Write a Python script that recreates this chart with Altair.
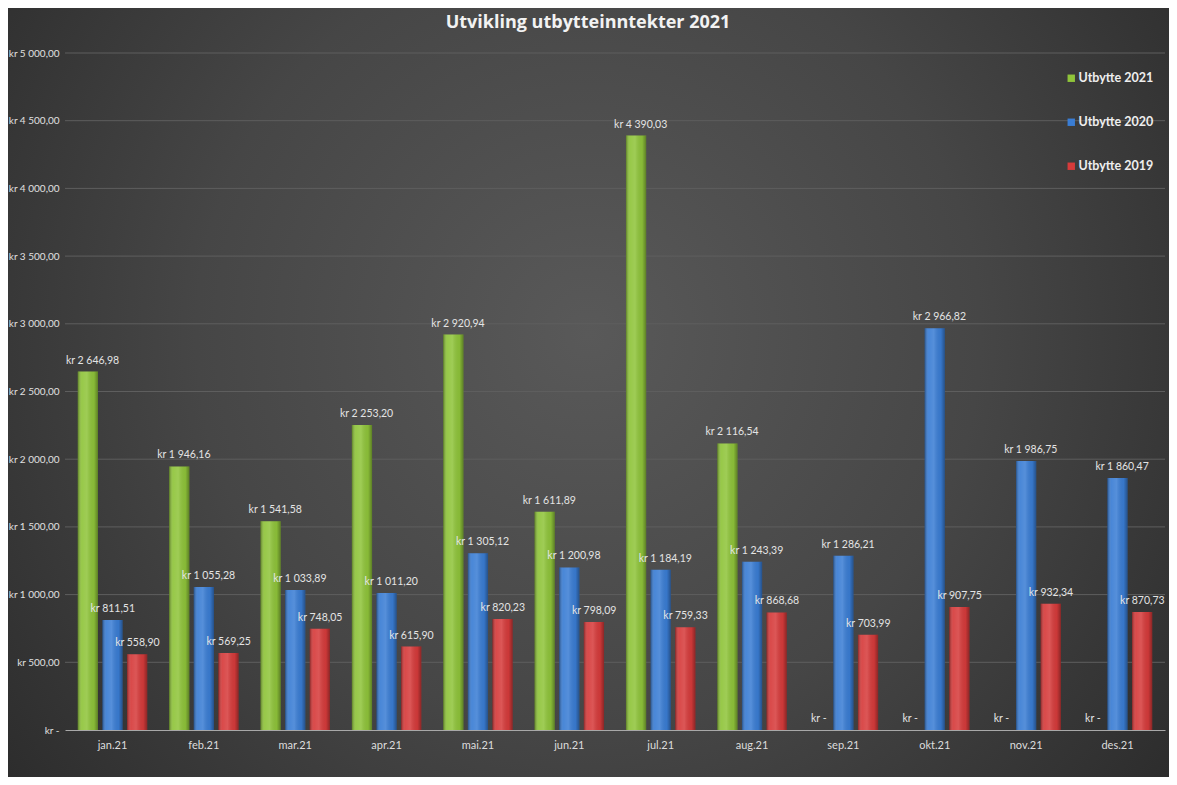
import altair as alt
import pandas as pd

months = ["jan.21", "feb.21", "mar.21", "apr.21", "mai.21", "jun.21",
          "jul.21", "aug.21", "sep.21", "okt.21", "nov.21", "des.21"]
series = ["Utbytte 2021", "Utbytte 2020", "Utbytte 2019"]
u2021 = [2646.98, 1946.16, 1541.58, 2253.20, 2920.94, 1611.89,
         4390.03, 2116.54, 0, 0, 0, 0]
u2020 = [811.51, 1055.28, 1033.89, 1011.20, 1305.12, 1200.98,
         1184.19, 1243.39, 1286.21, 2966.82, 1986.75, 1860.47]
u2019 = [558.90, 569.25, 748.05, 615.90, 820.23, 798.09,
         759.33, 868.68, 703.99, 907.75, 932.34, 870.73]
colors = ["#8fc43a", "#3a7dd4", "#d63b3b"]
y_ticks = [500, 1000, 1500, 2000, 2500, 3000, 3500, 4000, 4500, 5000]


def fmt(v):
    if v == 0:
        return "kr -"
    s = f"{v:,.2f}".replace(",", " ").replace(".", ",")
    return ("kr  " if v < 1000 else "kr ") + s


rows = []
for i, m in enumerate(months):
    for s, vals in zip(series, [u2021, u2020, u2019]):
        rows.append({"month": m, "series": s, "value": vals[i], "label": fmt(vals[i])})
df = pd.DataFrame(rows)
grid_df = pd.DataFrame({"tick": y_ticks})
bg_df = pd.DataFrame({"k": [0]})

W, H = 1100, 677
PL, PT, PR, PB = 57, 45, 4, 47
FONT = "Lato"

x_enc = alt.X(
    "month:N", sort=months,
    scale=alt.Scale(paddingInner=0.24, paddingOuter=0.14),
    axis=alt.Axis(title=None, labelAngle=0, labelColor="#dddddd", labelFont=FONT,
                  labelFontSize=11, labelPadding=9, ticks=False,
                  domainColor="#a8a8a8", domainWidth=1, grid=False, zindex=1),
)
xo_enc = alt.XOffset("series:N", sort=series,
                     scale=alt.Scale(paddingInner=0.18, paddingOuter=0))
y_enc = alt.Y(
    "value:Q", title=None,
    scale=alt.Scale(domain=[0, 5000], nice=False),
    axis=alt.Axis(title=None, values=[0] + y_ticks, domain=False, ticks=False, grid=False,
                  labelColor="#e0e0e0", labelFont=FONT, labelFontSize=10, labelPadding=6,
                  zindex=1,
                  labelExpr="datum.value == 0 ? 'kr -' : (datum.value < 1000 ? 'kr  ' : 'kr ') + "
                            "replace(replace(format(datum.value, ',.2f'), ',', ' '), '.', ',')"),
)

bg = alt.Chart(bg_df).mark_rect(
    fill=alt.RadialGradient(
        gradient="radial", x1=0.5, y1=0.45, r1=0, x2=0.5, y2=0.45, r2=0.75,
        stops=[alt.GradientStop(color="#595959", offset=0),
               alt.GradientStop(color="#464646", offset=0.45),
               alt.GradientStop(color="#2c2c2c", offset=0.85),
               alt.GradientStop(color="#222222", offset=1)]),
).encode(x=alt.value(-PL), x2=alt.value(W + PR),
         y=alt.value(-PT), y2=alt.value(H + PB))

grid = alt.Chart(grid_df).mark_rule(color="#5e5e5e", strokeWidth=1).encode(
    y=alt.Y("tick:Q", title=None, scale=alt.Scale(domain=[0, 5000], nice=False)),
    x=alt.value(0), x2=alt.value(W),
)

bars = alt.Chart(df).mark_bar().encode(
    x=x_enc, xOffset=xo_enc, y=y_enc,
    color=alt.Color("series:N", sort=series,
                    scale=alt.Scale(domain=series, range=colors),
                    legend=alt.Legend(title=None, orient="none", legendX=1000, legendY=19,
                                      symbolType="square", symbolSize=55, symbolStrokeWidth=0,
                                      labelColor="#eeeeee", labelFont=FONT, labelFontSize=12.5,
                                      labelFontWeight="bold", rowPadding=31, labelOffset=1,
                                      padding=0)),
)

shade = alt.Chart(df).mark_bar(
    fill=alt.LinearGradient(
        gradient="linear", x1=0, x2=1, y1=0, y2=0,
        stops=[alt.GradientStop(color="rgba(0,0,0,0.35)", offset=0),
               alt.GradientStop(color="rgba(255,255,255,0.08)", offset=0.2),
               alt.GradientStop(color="rgba(255,255,255,0.14)", offset=0.45),
               alt.GradientStop(color="rgba(0,0,0,0.05)", offset=0.8),
               alt.GradientStop(color="rgba(0,0,0,0.35)", offset=1)]),
).encode(x=alt.X("month:N", sort=months), xOffset=alt.XOffset("series:N", sort=series),
         y=alt.Y("value:Q", title=None))

labels = alt.Chart(df).transform_filter("datum.value > 0").mark_text(
    align="left", baseline="bottom", dx=-22, dy=-6,
    color="#e4e4e4", font=FONT, fontSize=10.5,
).encode(x=alt.X("month:N", sort=months), xOffset=alt.XOffset("series:N", sort=series),
         y=alt.Y("value:Q", title=None), text="label:N")

zero_labels = alt.Chart(df).transform_filter("datum.value == 0").mark_text(
    align="center", baseline="bottom", dy=-6,
    color="#e4e4e4", font=FONT, fontSize=10.5,
).encode(x=alt.X("month:N", sort=months), xOffset=alt.XOffset("series:N", sort=series),
         y=alt.Y("value:Q", title=None), text="label:N")

chart = alt.layer(bg, grid, bars, shade, labels, zero_labels).properties(
    width=W, height=H,
    autosize=alt.AutoSizeParams(type="none"),
    padding={"left": PL, "top": PT, "right": PR, "bottom": PB},
    background="#2c2c2c",
    title=alt.TitleParams("Utvikling utbytteinntekter 2021", color="#f2f2f2", font="Open Sans",
                          fontSize=18, fontWeight="bold", anchor="middle", dx=-27, offset=-24),
).configure_view(stroke=None)

chart.save("out.html", embed_options={"renderer": "svg", "actions": False})
